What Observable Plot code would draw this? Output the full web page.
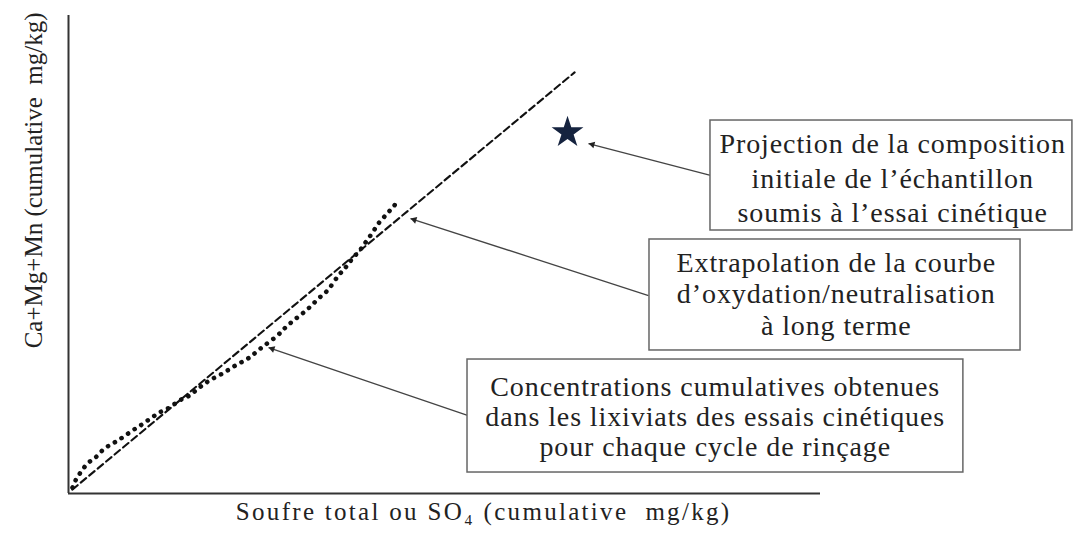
<!DOCTYPE html>
<html>
<head>
<meta charset="utf-8">
<script src="https://cdn.jsdelivr.net/npm/d3@7"></script>
<script src="https://cdn.jsdelivr.net/npm/@observablehq/plot@0.6"></script>
<style>
  html, body { margin: 0; padding: 0; background: #fff; }
  #chart svg { display: block; }
  #chart [aria-label="box-label"], #chart [aria-label="box-label"] tspan { letter-spacing: 0.9px; }
  #chart [aria-label="x-title"], #chart [aria-label="x-title"] tspan { letter-spacing: 2.3px; }
</style>
</head>
<body>
<div id="chart"></div>
<script>
// ---- Data (arbitrary cumulative units, axes without ticks) ----
const dottedX = [0.53, 0.93, 1.60, 2.53, 3.59, 4.79, 6.12, 7.18, 8.51, 9.57, 10.90, 12.10, 13.43, 14.76, 16.09, 17.42, 18.75, 20.48, 22.21, 24.07, 25.53, 27.79, 28.86, 29.92, 31.12, 32.18, 33.24, 34.44, 35.90, 36.84, 37.77, 38.83, 39.49, 40.43, 41.22, 42.15, 43.09, 44.02];
const dottedY = [1.26, 2.72, 4.39, 6.28, 7.53, 9.41, 10.67, 11.72, 13.18, 14.23, 15.69, 16.95, 17.99, 19.46, 20.50, 22.18, 23.64, 25.10, 26.78, 28.45, 30.33, 33.05, 34.73, 36.19, 37.66, 39.12, 40.79, 42.47, 45.61, 47.28, 49.16, 51.05, 52.51, 54.60, 56.49, 58.16, 59.83, 61.51];

const dashedX = [0.5, 67.3];
const dashedY = [0.8, 88.1];

const starX = [66.36];
const starY = [75.52];

const boxLabels = [
  "Projection de la composition\ninitiale de l’échantillon\nsoumis à l’essai cinétique",
  "Extrapolation de la courbe\nd’oxydation/neutralisation\nà long terme",
  "Concentrations cumulatives obtenues\ndans les lixiviats des essais cinétiques\npour chaque cycle de rinçage"
];
const boxX1 = [85.37, 77.26, 53.06];
const boxX2 = [133.5, 126.6, 119.0];
const boxY1 = [55.02, 29.92, 4.39];
const boxY2 = [78.03, 53.14, 28.03];
const labelX = [109.6, 102.1, 86.0];
const labelY = [66.3, 41.9, 16.1];
const labelLineHeight = [1.22, 1.14, 1.07];

const arrowFromX = [85.37, 77.13, 53.06];
const arrowFromY = [66.53, 41.42, 16.32];
const arrowToX = [69.15, 45.48, 26.6];
const arrowToY = [73.22, 57.53, 30.54];

const xTitle = "Soufre total ou SO₄ (cumulative  mg/kg)";
const yTitle = "Ca+Mg+Mn (cumulative  mg/kg)";
const xTitlePos = 55.2;
const yTitlePos = 65.5;

// ---- Layout ----
const W = 1076, H = 535;
const mL = 68, mR = 256, mT = 15, mB = 42;
const xDomain = [0, 100], yDomain = [0, 100];
const FONT = "'Liberation Serif', 'Times New Roman', serif";

const dotted = dottedX.map((x, i) => ({x, y: dottedY[i]}));
const dashed = dashedX.map((x, i) => ({x, y: dashedY[i]}));
const star = starX.map((x, i) => ({x, y: starY[i]}));
const boxes = boxLabels.map((t, i) => ({
  t, x1: boxX1[i], x2: boxX2[i], y1: boxY1[i], y2: boxY2[i],
  lx: labelX[i], ly: labelY[i], lh: labelLineHeight[i]
}));

// pixel-per-unit (for arrowhead orientation only)
const pxX = (W - mL - mR) / (xDomain[1] - xDomain[0]);
const pxY = (H - mT - mB) / (yDomain[1] - yDomain[0]);
const HEAD_BACK = 4; // px the triangle centre sits behind the tip
const arrows = arrowFromX.map((x1, i) => {
  const x2 = arrowToX[i], y1 = arrowFromY[i], y2 = arrowToY[i];
  const dxp = (x2 - x1) * pxX, dyp = -(y2 - y1) * pxY; // screen coords
  const len = Math.hypot(dxp, dyp);
  const ux = dxp / len, uy = dyp / len;
  return {
    x1, y1, x2, y2,
    hx: x2 - ux * HEAD_BACK / pxX,
    hy: y2 + uy * HEAD_BACK / pxY,
    rot: Math.atan2(ux, -uy) * 180 / Math.PI
  };
});

const plot = Plot.plot({
  width: W,
  height: H,
  marginLeft: mL,
  marginRight: mR,
  marginTop: mT,
  marginBottom: mB,
  x: {domain: xDomain, axis: null},
  y: {domain: yDomain, axis: null},
  style: {fontFamily: FONT, background: "#fff", color: "#222", overflow: "visible"},
  marks: [
    // axes
    Plot.ruleX([0], {stroke: "#333", strokeWidth: 2}),
    Plot.ruleY([0], {stroke: "#333", strokeWidth: 2}),
    // extrapolation line
    Plot.line(dashed, {x: "x", y: "y", stroke: "#111", strokeWidth: 2.1, strokeDasharray: "7,4"}),
    // cumulative data curve
    Plot.line(dotted, {x: "x", y: "y", stroke: "#111", strokeWidth: 4.6, strokeDasharray: "0.1,7.8", strokeLinecap: "round", curve: "catmull-rom"}),
    // initial composition
    Plot.dot(star, {x: "x", y: "y", symbol: "star", r: 10, fill: "#15233f", stroke: "none"}),
    // arrows
    Plot.link(arrows, {x1: "x1", y1: "y1", x2: "x2", y2: "y2", stroke: "#444", strokeWidth: 1.3}),
    Plot.dot(arrows, {x: "hx", y: "hy", symbol: "triangle2", r: 3.3, fill: "#222", stroke: "none", rotate: "rot"}),
    // annotation boxes
    Plot.rect(boxes, {x1: "x1", x2: "x2", y1: "y1", y2: "y2", fill: "#fff", stroke: "#666", strokeWidth: 1.5}),
    ...boxes.map(b => Plot.text([b], {
      x: "lx", y: "ly", text: "t", fontSize: 28, lineHeight: b.lh,
      fill: "#222", textAnchor: "middle", fontFamily: FONT, ariaLabel: () => "box-label"
    })),
    // axis titles
    Plot.text([xTitle], {x: xTitlePos, frameAnchor: "bottom", dy: 26, fontSize: 25, fill: "#222", fontFamily: FONT, textAnchor: "middle", ariaLabel: () => "x-title"}),
    Plot.text([yTitle], {y: yTitlePos, frameAnchor: "left", dx: -35, rotate: -90, fontSize: 25, fill: "#222", fontFamily: FONT, textAnchor: "middle"})
  ]
});

document.getElementById("chart").appendChild(plot);
</script>
</body>
</html>
